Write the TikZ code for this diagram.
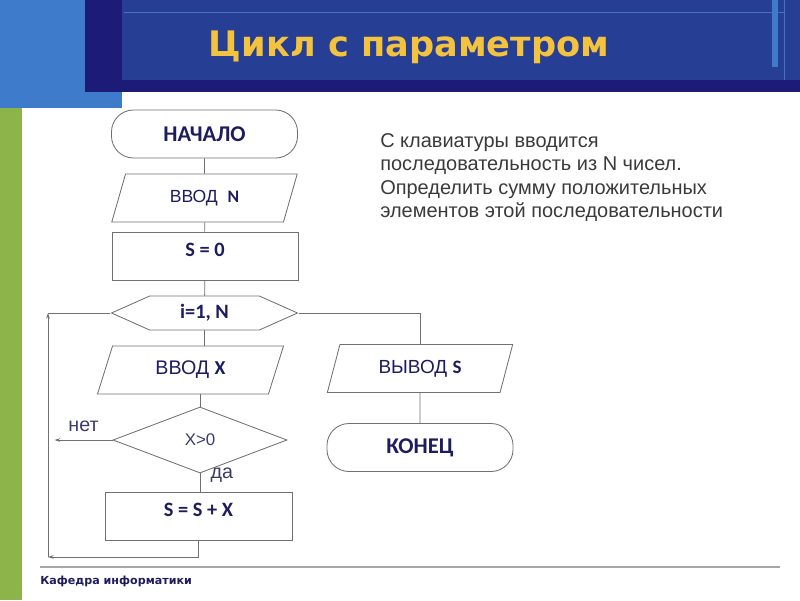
\documentclass[tikz,border=0pt]{standalone}
\usepackage{fontspec}
\setmainfont{Liberation Sans}
\newfontfamily\flowfont{Carlito}
\newfontfamily\headfont{DejaVu Sans}
\usepackage{tikz}
\usetikzlibrary{arrows.meta, positioning, shapes.geometric, shapes.symbols, calc}

\definecolor{skyblue}{HTML}{3E7CCB}
\definecolor{navyband}{HTML}{1C1C78}
\definecolor{bandblue}{HTML}{263E93}
\definecolor{hairblue}{HTML}{4A6FC4}
\definecolor{grassgreen}{HTML}{8DB34B}
\definecolor{titlegold}{HTML}{F3C33F}
\definecolor{textnavy}{HTML}{1C1C5E}
\definecolor{labelnavy}{HTML}{3B3B6B}
\definecolor{linegray}{HTML}{707070}
\definecolor{bodygray}{HTML}{3A3A3A}

\newcommand{\varname}[1]{{\flowfont\bfseries #1}}

\begin{document}
\begin{tikzpicture}[x=0.025cm, y=-0.025cm,
  terminal/.style={rectangle, draw=linegray, line width=0.6pt, rounded corners=0.55cm,
    minimum width=4.65cm, minimum height=1.2cm, inner sep=0pt,
    font=\flowfont\bfseries\fontsize{16}{18}\selectfont, text=textnavy},
  inout/.style={trapezium, trapezium left angle=69, trapezium right angle=111,
    trapezium stretches=true, draw=linegray, line width=0.6pt,
    minimum width=4.65cm, minimum height=1.2cm, inner sep=0pt, text=textnavy},
  process/.style={rectangle, draw=linegray, line width=0.6pt,
    minimum width=4.65cm, minimum height=1.2cm, inner sep=0pt,
    text height=0.25cm, text depth=0.25cm,
    font=\flowfont\bfseries\fontsize{14.5}{16}\selectfont, text=textnavy},
  loophex/.style={signal, signal to=west and east, signal pointer angle=48,
    draw=linegray, line width=0.6pt, minimum width=4.65cm, minimum height=0.85cm,
    inner sep=0pt, font=\flowfont\bfseries\fontsize{14.5}{16}\selectfont, text=textnavy},
  decision/.style={diamond, draw=linegray, line width=0.6pt, aspect=2.64,
    minimum width=4.35cm, minimum height=1.65cm, inner sep=0pt,
    font=\fontsize{12}{14}\selectfont, text=labelnavy},
  flow/.style={draw=linegray, line width=0.6pt},
  arr/.style={flow, -{Stealth[length=4pt, width=2.6pt]}},
  lbl/.style={font=\fontsize{14}{16}\selectfont, text=labelnavy},
]
\useasboundingbox (0,0) rectangle (800,600);

% slide frame
\fill[skyblue] (0,0) rectangle (122,108);
\fill[grassgreen] (0,108) rectangle (22,600);
\fill[navyband] (85,0) rectangle (800,92);
\fill[bandblue] (122,0) rectangle (800,80);
\draw[hairblue, line width=0.6pt] (124,12) -- (784,12);
\draw[hairblue, line width=0.6pt] (784,0) -- (784,80);
\fill[skyblue] (772,0) rectangle (778,67);
\node[font=\headfont\bfseries\fontsize{25}{29}\selectfont, text=titlegold] (title) at (409,47) {Цикл с параметром};

\draw[gray!70, line width=0.8pt] (40,567) -- (780,567);
\node[anchor=west, inner sep=0pt, font=\headfont\bfseries\fontsize{7.9}{10}\selectfont, text=textnavy] (dept) at (40,581) {Кафедра информатики};

% task
\node[anchor=north west, align=left, inner sep=0pt, text=bodygray,
  font=\fontsize{14.2}{16.7}\selectfont] (task) at (380,133)
  {С клавиатуры вводится\\последовательность из N чисел.\\Определить сумму положительных\\элементов этой последовательности};

% blocks
\node[terminal] (start) at (204.5,134) {НАЧАЛО};
\node[inout, font=\fontsize{12.5}{14}\selectfont] (readn) at (204.5,198) {ВВОД\ \ \varname{N}};
\node[process] (init) at (205,256) {S = 0};
\node[loophex] (loop) at (204.5,313) {i=1, N};
\node[inout, font=\fontsize{14}{16}\selectfont] (readx) at (190.5,370) {ВВОД \varname{X}};
\node[decision] (test) at (200,440) {X>0};
\node[process, minimum width=4.675cm] (acc) at (198.5,516) {S = S + X};
\node[inout, font=\fontsize{13.5}{15}\selectfont] (out) at (420,368.5) {ВЫВОД \varname{S}};
\node[terminal] (stop) at (420,447.5) {КОНЕЦ};

\coordinate (backcorner) at (48,557);
\coordinate (backtop) at (48,313);

% connectors
\draw[flow] (start) -- (readn);
\draw[flow] (readn) -- (init);
\draw[flow] (init) -- (loop);
\draw[flow] (loop.south) -- (loop.south |- readx.north);
\draw[flow] (test.north |- readx.south) -- (test.north);
\draw[flow] (test.south) -- node[lbl, right=4pt, pos=0.1] {да} (test.south |- acc.north);
\draw[arr] (test.west) -- node[lbl, above=2pt] {нет} ++(-58,0);
\draw[arr] (acc.south) |- (backcorner);
\draw[arr] (backcorner) -- (backtop);
\draw[flow] (backtop) -- (loop.west);
\draw[flow] (loop.east) -| (out.north);
\draw[flow] (out) -- (stop);

\end{tikzpicture}
\end{document}
